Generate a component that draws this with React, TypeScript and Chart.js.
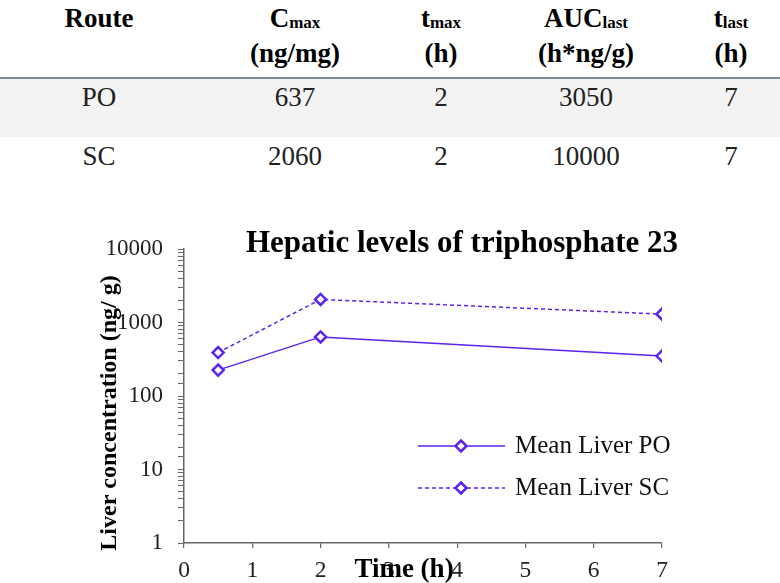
import React, { useEffect, useRef } from "react";
import { Chart, registerables } from "chart.js";

Chart.register(...registerables);

// ---- Data ----
const timesPO = [0.5, 2, 7];
const valuesPO = [225, 637, 350];
const timesSC = [0.5, 2, 7];
const valuesSC = [390, 2060, 1300];
const seriesLabels = ["Mean Liver PO", "Mean Liver SC"];
const yMajorTicks = [1, 10, 100, 1000, 10000];

const tableRoutes = ["PO", "SC"];
const tableCmax = ["637", "2060"];
const tableTmax = ["2", "2"];
const tableAuc = ["3050", "10000"];
const tableTlast = ["7", "7"];

const chartTitle = "Hepatic levels of triphosphate 23";
const yTitle = "Liver concentration (ng/ g)";
const xTitle = "Time (h)";

const COLOR = "#5b22f0";
const SERIF = '"Liberation Serif", "Times New Roman", serif';
const CANVAS_TOP = 200;

function drawDiamond(ctx: CanvasRenderingContext2D, x: number, y: number, r: number) {
  ctx.save();
  ctx.beginPath();
  ctx.moveTo(x, y - r);
  ctx.lineTo(x + r, y);
  ctx.lineTo(x, y + r);
  ctx.lineTo(x - r, y);
  ctx.closePath();
  ctx.fillStyle = "#ffffff";
  ctx.fill();
  ctx.lineWidth = 2.5;
  ctx.strokeStyle = COLOR;
  ctx.setLineDash([]);
  ctx.stroke();
  ctx.restore();
}

const overlayPlugin = {
  id: "overlay",
  afterDraw(chart: any) {
    const ctx: CanvasRenderingContext2D = chart.ctx;
    ctx.save();
    ctx.fillStyle = "#000";
    // Title
    ctx.font = `bold 31px ${SERIF}`;
    ctx.textAlign = "center";
    ctx.textBaseline = "alphabetic";
    ctx.fillText(chartTitle, 462, 252 - CANVAS_TOP);
    // Y title
    ctx.save();
    ctx.translate(110, 413 - CANVAS_TOP);
    ctx.rotate(-Math.PI / 2);
    ctx.font = `bold 24px ${SERIF}`;
    ctx.textBaseline = "middle";
    ctx.fillText(yTitle, 0, 0);
    ctx.restore();
    // X title
    ctx.font = `bold 27px ${SERIF}`;
    ctx.textAlign = "center";
    ctx.textBaseline = "alphabetic";
    ctx.fillText(xTitle, 404, 577 - CANVAS_TOP);
    // Legend
    const rows = [
      { y: 446 - CANVAS_TOP, dash: [] as number[], label: seriesLabels[0] },
      { y: 488 - CANVAS_TOP, dash: [4, 3], label: seriesLabels[1] },
    ];
    rows.forEach((r) => {
      ctx.save();
      ctx.strokeStyle = COLOR;
      ctx.lineWidth = 1.5;
      ctx.setLineDash(r.dash);
      ctx.beginPath();
      ctx.moveTo(418, r.y);
      ctx.lineTo(505, r.y);
      ctx.stroke();
      ctx.restore();
      drawDiamond(ctx, 461, r.y, 5.5);
      ctx.font = `25px ${SERIF}`;
      ctx.fillStyle = "#111";
      ctx.textAlign = "left";
      ctx.textBaseline = "middle";
      ctx.fillText(r.label, 515, r.y);
    });
    ctx.restore();
  },
};

function ChartView() {
  const ref = useRef<HTMLCanvasElement>(null);
  useEffect(() => {
    if (!ref.current) return;
    const chart = new Chart(ref.current, {
      type: "line",
      data: {
        datasets: [
          {
            label: seriesLabels[0],
            data: timesPO.map((t, i) => ({ x: t, y: valuesPO[i] })),
            borderColor: COLOR,
            backgroundColor: "#ffffff",
            borderWidth: 1.5,
            pointStyle: "rectRot",
            pointRadius: 5.5,
            pointBorderWidth: 2.5,
            pointBorderColor: COLOR,
            pointBackgroundColor: "#ffffff",
            tension: 0,
          },
          {
            label: seriesLabels[1],
            data: timesSC.map((t, i) => ({ x: t, y: valuesSC[i] })),
            borderColor: COLOR,
            backgroundColor: "#ffffff",
            borderWidth: 1.5,
            borderDash: [4, 3],
            pointStyle: "rectRot",
            pointRadius: 5.5,
            pointBorderWidth: 2.5,
            pointBorderColor: COLOR,
            pointBackgroundColor: "#ffffff",
            tension: 0,
          },
        ],
      },
      options: {
        responsive: false,
        animation: false,
        devicePixelRatio: 1,
        layout: { padding: { top: 49, right: 118, bottom: 0, left: 0 } },
        plugins: {
          legend: { display: false },
          title: { display: false },
          tooltip: { enabled: false },
        },
        scales: {
          x: {
            type: "linear",
            min: 0,
            max: 7,
            ticks: {
              stepSize: 1,
              color: "#222",
              font: { family: SERIF, size: 23.5 },
              padding: 9,
              maxRotation: 0,
            },
            grid: {
              drawOnChartArea: false,
              drawTicks: true,
              tickLength: 5,
              color: "#666",
              lineWidth: 1.2,
            },
            border: { display: true, color: "#666", width: 1.5 },
            afterFit: (scale: any) => {
              scale.height = 40;
            },
          },
          y: {
            type: "logarithmic",
            min: 1,
            max: 10000,
            ticks: {
              autoSkip: false,
              color: "#222",
              font: { family: SERIF, size: 23 },
              padding: 15,
              callback: (v: any) => (yMajorTicks.includes(Number(v)) ? String(v) : ""),
            },
            grid: {
              drawOnChartArea: false,
              drawTicks: true,
              tickLength: 6,
              color: "#666",
              lineWidth: 1,
            },
            border: { display: true, color: "#666", width: 1.5 },
            afterFit: (scale: any) => {
              scale.width = 184;
            },
          },
        },
      },
      plugins: [overlayPlugin],
    } as any);
    return () => chart.destroy();
  }, []);
  return (
    <canvas
      ref={ref}
      width={780}
      height={383}
      style={{ position: "absolute", left: 0, top: CANVAS_TOP, width: 780, height: 383 }}
    />
  );
}

const FS = 27;
function Cell(props: { cx: number; baseline: number; bold?: boolean; children: any }) {
  return (
    <div
      style={{
        position: "absolute",
        left: props.cx - 120,
        width: 240,
        top: props.baseline - Math.round(FS * 0.8375),
        textAlign: "center",
        fontFamily: SERIF,
        fontSize: FS,
        lineHeight: `${FS}px`,
        fontWeight: props.bold ? 700 : 400,
        color: props.bold ? "#000" : "#222",
        whiteSpace: "nowrap",
      }}
    >
      {props.children}
    </div>
  );
}

const subStyle: React.CSSProperties = {
  fontSize: 17,
  fontWeight: 700,
  verticalAlign: "-1px",
};

export default function App() {
  const cols = [99, 295, 441, 586, 731];
  const rowBase = [107, 166];
  return (
    <div
      style={{
        position: "fixed",
        left: 0,
        top: 0,
        width: 780,
        height: 583,
        background: "#fff",
        overflow: "hidden",
      }}
    >
      <div style={{ position: "absolute", left: 0, top: 78, width: 780, height: 59, background: "#f3f3f3" }} />
      <div style={{ position: "absolute", left: 0, top: 77, width: 780, height: 2, background: "#7f8f93" }} />
      <Cell cx={cols[0]} baseline={28} bold>Route</Cell>
      <Cell cx={cols[1]} baseline={28} bold>
        C<span style={subStyle}>max</span>
      </Cell>
      <Cell cx={cols[2]} baseline={28} bold>
        t<span style={subStyle}>max</span>
      </Cell>
      <Cell cx={cols[3]} baseline={28} bold>
        AUC<span style={subStyle}>last</span>
      </Cell>
      <Cell cx={cols[4]} baseline={28} bold>
        t<span style={subStyle}>last</span>
      </Cell>
      <Cell cx={cols[1]} baseline={63} bold>(ng/mg)</Cell>
      <Cell cx={cols[2]} baseline={63} bold>(h)</Cell>
      <Cell cx={cols[3]} baseline={63} bold>(h*ng/g)</Cell>
      <Cell cx={cols[4]} baseline={63} bold>(h)</Cell>
      {tableRoutes.map((r, i) => (
        <React.Fragment key={r}>
          <Cell cx={cols[0]} baseline={rowBase[i]}>{r}</Cell>
          <Cell cx={cols[1]} baseline={rowBase[i]}>{tableCmax[i]}</Cell>
          <Cell cx={cols[2]} baseline={rowBase[i]}>{tableTmax[i]}</Cell>
          <Cell cx={cols[3]} baseline={rowBase[i]}>{tableAuc[i]}</Cell>
          <Cell cx={cols[4]} baseline={rowBase[i]}>{tableTlast[i]}</Cell>
        </React.Fragment>
      ))}
      <ChartView />
    </div>
  );
}
